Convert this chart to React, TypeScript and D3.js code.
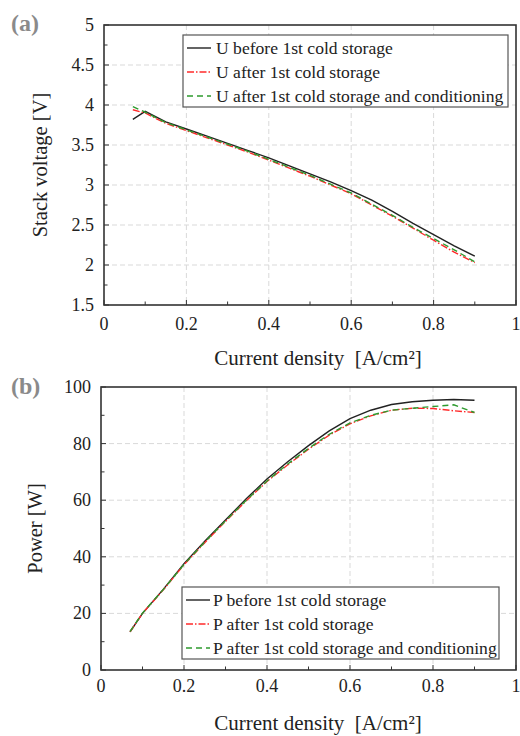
import React from "react";
import * as d3 from "d3";

const currentDensity = [0.07, 0.1, 0.15, 0.2, 0.25, 0.3, 0.35, 0.4, 0.45, 0.5, 0.55, 0.6, 0.65, 0.7, 0.75, 0.8, 0.85, 0.9];

const uBefore = [3.82, 3.92, 3.79, 3.70, 3.61, 3.52, 3.43, 3.34, 3.24, 3.14, 3.04, 2.93, 2.81, 2.67, 2.52, 2.38, 2.24, 2.11];
const uAfter = [3.94, 3.90, 3.77, 3.68, 3.59, 3.50, 3.41, 3.31, 3.21, 3.11, 3.00, 2.89, 2.75, 2.61, 2.46, 2.31, 2.16, 2.03];
const uAfterCond = [3.98, 3.91, 3.78, 3.69, 3.60, 3.51, 3.42, 3.32, 3.22, 3.12, 3.01, 2.90, 2.76, 2.62, 2.47, 2.33, 2.19, 2.04];

const pBefore = [13.5, 20.0, 28.5, 37.6, 45.5, 53.0, 60.5, 67.5, 73.6, 79.3, 84.5, 88.8, 91.8, 93.8, 94.8, 95.3, 95.6, 95.3];
const pAfter = [13.5, 20.0, 28.3, 37.2, 45.0, 52.5, 59.8, 66.6, 72.5, 78.0, 83.0, 87.0, 89.8, 91.8, 92.5, 92.4, 91.6, 91.0];
const pAfterCond = [13.6, 20.1, 28.4, 37.3, 45.2, 52.7, 60.0, 66.8, 72.8, 78.3, 83.3, 87.3, 90.0, 91.8, 92.5, 93.1, 93.7, 91.0];

const xTicks = [0, 0.2, 0.4, 0.6, 0.8, 1];
const xMinor = [0.1, 0.3, 0.5, 0.7, 0.9];
const uTicks = [1.5, 2, 2.5, 3, 3.5, 4, 4.5, 5];
const uMinor = [1.75, 2.25, 2.75, 3.25, 3.75, 4.25, 4.75];
const pTicks = [0, 20, 40, 60, 80, 100];
const pMinor = [10, 30, 50, 70, 90];

const uLabels = ["U before 1st cold storage", "U after 1st cold storage", "U after 1st cold storage and conditioning"];
const pLabels = ["P before 1st cold storage", "P after 1st cold storage", "P after 1st cold storage and conditioning"];

const FONT = "'Liberation Serif', 'Times New Roman', serif";
const styles = [
  { stroke: "#222", dash: "none" },
  { stroke: "#ff2a2a", dash: "7,2,1.5,2" },
  { stroke: "#2e9a2e", dash: "6,4" },
];

function Panel(props: any) {
  const { left, right, top, bottom, yDomain, yTicks, yMinor, series, labels, yTitle, letter, letterY,
    xLabelY, xTitleY, yTitleX, legend, tickFmt } = props;
  const x = d3.scaleLinear().domain([0, 1]).range([left, right]);
  const y = d3.scaleLinear().domain(yDomain).range([bottom, top]);
  const line = d3.line<number>().x((_, i) => x(currentDensity[i])).y((d) => y(d));
  return (
    <g>
      {xTicks.slice(1, -1).map((t) => (
        <line key={"gx" + t} x1={x(t)} x2={x(t)} y1={top} y2={bottom} stroke="#d9d9d9" strokeWidth={1} strokeDasharray="5,3" />
      ))}
      {yTicks.slice(1, -1).map((t: number) => (
        <line key={"gy" + t} x1={left} x2={right} y1={y(t)} y2={y(t)} stroke="#d9d9d9" strokeWidth={1} strokeDasharray="5,3" />
      ))}
      {xTicks.map((t) => (
        <line key={"tx" + t} x1={x(t)} x2={x(t)} y1={bottom} y2={bottom - 5} stroke="#333" strokeWidth={1} />
      ))}
      {xMinor.map((t) => (
        <line key={"mx" + t} x1={x(t)} x2={x(t)} y1={bottom} y2={bottom - 3.5} stroke="#333" strokeWidth={1} />
      ))}
      {yTicks.map((t: number) => (
        <line key={"ty" + t} x1={left} x2={left + 5} y1={y(t)} y2={y(t)} stroke="#333" strokeWidth={1} />
      ))}
      {yMinor.map((t: number) => (
        <line key={"my" + t} x1={left} x2={left + 3.5} y1={y(t)} y2={y(t)} stroke="#333" strokeWidth={1} />
      ))}
      {series.map((s: number[], i: number) => (
        <path key={"s" + i} d={line(s) || ""} fill="none" stroke={styles[i].stroke} strokeWidth={1.4}
          strokeDasharray={styles[i].dash} />
      ))}
      <rect x={left} y={top} width={right - left} height={bottom - top} fill="none" stroke="#333" strokeWidth={1.6} />
      {xTicks.map((t) => (
        <text key={"lx" + t} x={x(t)} y={xLabelY} textAnchor="middle" fontFamily={FONT} fontSize={18} fill="#222">
          {d3.format("~g")(t)}
        </text>
      ))}
      {yTicks.map((t: number) => (
        <text key={"ly" + t} x={left - 10} y={y(t) + 6} textAnchor="end" fontFamily={FONT} fontSize={18} fill="#222">
          {tickFmt(t)}
        </text>
      ))}
      <text x={318} y={xTitleY} textAnchor="middle" fontFamily={FONT} fontSize={21} fill="#222" xmlSpace="preserve">
        {"Current density  [A/cm²]"}
      </text>
      <text transform={`translate(${yTitleX},${(top + bottom) / 2}) rotate(-90)`} textAnchor="middle" fontFamily={FONT}
        fontSize={20.5} fill="#222">
        {yTitle}
      </text>
      <text x={11} y={letterY} fontFamily={FONT} fontSize={24} fontWeight="bold" fill="#8a8a8a">{letter}</text>
      <g>
        <rect x={legend.x} y={legend.y} width={legend.w} height={legend.h} fill="#fff" stroke="#555" strokeWidth={1.2} />
        {labels.map((lab: string, i: number) => (
          <g key={"lg" + i}>
            <line x1={legend.x + 4} x2={legend.x + 28} y1={legend.y + 13 + i * 24} y2={legend.y + 13 + i * 24}
              stroke={styles[i].stroke} strokeWidth={1.4} strokeDasharray={styles[i].dash} />
            <text x={legend.x + legend.tx} y={legend.y + 18.5 + i * 24} fontFamily={FONT} fontSize={17.6} fill="#222">{lab}</text>
          </g>
        ))}
      </g>
    </g>
  );
}

export default function App() {
  return (
    <svg width={520} height={736} style={{ position: "absolute", left: 0, top: 0, background: "#fff" }}>
      <Panel left={104} right={516} top={25} bottom={305} yDomain={[1.5, 5]} yTicks={uTicks} yMinor={uMinor}
        series={[uBefore, uAfter, uAfterCond]} labels={uLabels} yTitle="Stack voltage [V]" letter="(a)" letterY={31}
        xLabelY={330} xTitleY={365} yTitleX={47} tickFmt={d3.format("~g")}
        legend={{ x: 183, y: 35, w: 325, h: 72, tx: 33 }} />
      <Panel left={101} right={516} top={387} bottom={670} yDomain={[0, 100]} yTicks={pTicks} yMinor={pMinor}
        series={[pBefore, pAfter, pAfterCond]} labels={pLabels} yTitle="Power [W]" letter="(b)" letterY={394}
        xLabelY={692} xTitleY={730} yTitleX={42} tickFmt={d3.format("~g")}
        legend={{ x: 182, y: 587, w: 317, h: 72, tx: 31 }} />
    </svg>
  );
}
